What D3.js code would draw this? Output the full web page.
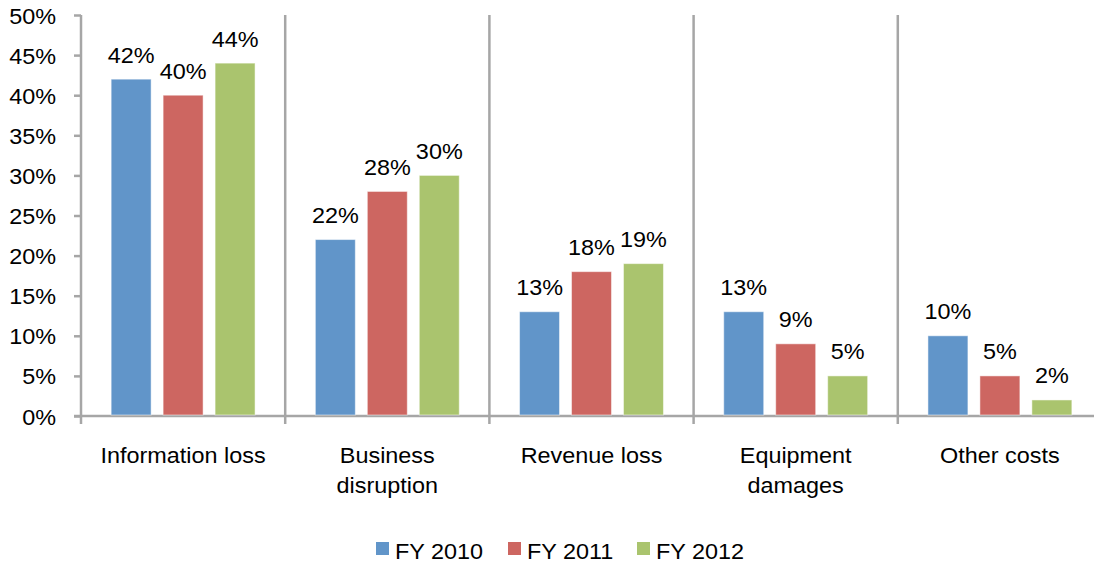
<!DOCTYPE html>
<html>
<head>
<meta charset="utf-8">
<script src="https://cdn.jsdelivr.net/npm/d3@7"></script>
<style>
  html, body { margin: 0; padding: 0; background: #fff; }
  svg { display: block; }
  text { font-family: "Liberation Sans", Arial, sans-serif; fill: #000; }
</style>
</head>
<body>
<svg id="chart" width="1094" height="565"></svg>
<script>
const categories = [["Information loss"], ["Business", "disruption"], ["Revenue loss"], ["Equipment", "damages"], ["Other costs"]];
const seriesNames = ["FY 2010", "FY 2011", "FY 2012"];
const fy2010 = [42, 22, 13, 13, 10];
const fy2011 = [40, 28, 18, 9, 5];
const fy2012 = [44, 30, 19, 5, 2];
const yTicks = [0, 5, 10, 15, 20, 25, 30, 35, 40, 45, 50];
const colors = ["#6195C9", "#CD6661", "#AAC46E"];

const seriesValues = [fy2010, fy2011, fy2012];
const catKeys = categories.map(c => c.join(" "));

const svg = d3.select("#chart");
const plotLeft = 81, plotRight = 1102, plotTop = 15, plotBottom = 416;
const axisColor = "#A6A6A6";
const fontSize = 22.5;
const sx = 1.04; // horizontal text stretch seen in the reference

function stretchText(sel) {
  sel.each(function() {
    const t = d3.select(this);
    const tx = +t.attr("x") || 0, ty = +t.attr("y") || 0;
    t.attr("x", 0).attr("y", 0)
      .attr("transform", `translate(${tx},${ty}) scale(${sx},1)`);
  });
}

const x = d3.scaleBand().domain(catKeys).range([plotLeft, plotRight]).padding(0);
const xs = d3.scaleBand().domain(seriesNames).range([0, x.bandwidth()])
  .paddingInner(12 / 52).paddingOuter(0.58);
const y = d3.scaleLinear().domain([0, 50]).range([plotBottom, plotTop]);

// Y axis
const yAxis = d3.axisLeft(y).tickValues(yTicks).tickSize(7).tickPadding(18)
  .tickFormat(d => d + "%");
const gy = svg.append("g").attr("transform", `translate(${plotLeft},0)`).call(yAxis);
gy.select(".domain").remove();
gy.selectAll(".tick line").attr("stroke", axisColor).attr("stroke-width", 2.5);
gy.selectAll(".tick text").attr("font-size", fontSize)
  .attr("font-family", "Liberation Sans, Arial, sans-serif").attr("fill", "#000")
  .attr("dy", null).attr("y", 8).call(stretchText);

// Category separators (including the y-axis line)
const boundaries = [plotLeft].concat(catKeys.map(k => x(k) + x.bandwidth()));
svg.append("g").selectAll("line").data(boundaries).join("line")
  .attr("x1", d => d).attr("x2", d => d)
  .attr("y1", plotTop).attr("y2", plotBottom + 8)
  .attr("stroke", axisColor).attr("stroke-width", 2.5);

// X axis line
svg.append("line").attr("x1", plotLeft - 7).attr("x2", 1094)
  .attr("y1", plotBottom).attr("y2", plotBottom)
  .attr("stroke", axisColor).attr("stroke-width", 2.5);

// Bars
const groups = svg.append("g").selectAll("g").data(catKeys).join("g")
  .attr("transform", d => `translate(${x(d)},0)`);

groups.each(function(cat, ci) {
  const g = d3.select(this);
  const data = seriesNames.map((s, si) => ({ s, si, v: seriesValues[si][ci] }));
  g.selectAll("rect").data(data).join("rect")
    .attr("x", d => xs(d.s))
    .attr("width", xs.bandwidth())
    .attr("y", d => y(d.v))
    .attr("height", d => y(0) - y(d.v) - 1)
    .attr("fill", d => colors[d.si])
    .attr("stroke", "#ffffff").attr("stroke-opacity", 0.5).attr("stroke-width", 1);
  g.selectAll("text.val").data(data).join("text")
    .attr("class", "val")
    .attr("x", d => xs(d.s) + xs.bandwidth() / 2)
    .attr("y", d => y(d.v) - 16.5)
    .attr("text-anchor", "middle")
    .attr("font-size", fontSize)
    .text(d => d.v + "%")
    .call(stretchText);
});

// Category labels
const catLines = [];
categories.forEach((lines, ci) => lines.forEach((ln, li) => catLines.push({ ci, li, ln })));
svg.append("g").selectAll("text").data(catLines).join("text")
  .attr("x", d => x(catKeys[d.ci]) + x.bandwidth() / 2)
  .attr("y", d => 463 + d.li * 30)
  .attr("text-anchor", "middle")
  .attr("font-size", fontSize)
  .text(d => d.ln)
  .call(stretchText);

// Legend
const legendX = [376, 508, 637];
const lg = svg.append("g").selectAll("g").data(seriesNames).join("g")
  .attr("transform", (d, i) => `translate(${legendX[i]},0)`);
lg.append("rect").attr("x", 0).attr("y", 542).attr("width", 13).attr("height", 13)
  .attr("fill", (d, i) => colors[i]);
lg.append("text").attr("x", 19).attr("y", 558.5)
  .attr("font-size", fontSize).text(d => d).call(stretchText);
</script>
</body>
</html>
